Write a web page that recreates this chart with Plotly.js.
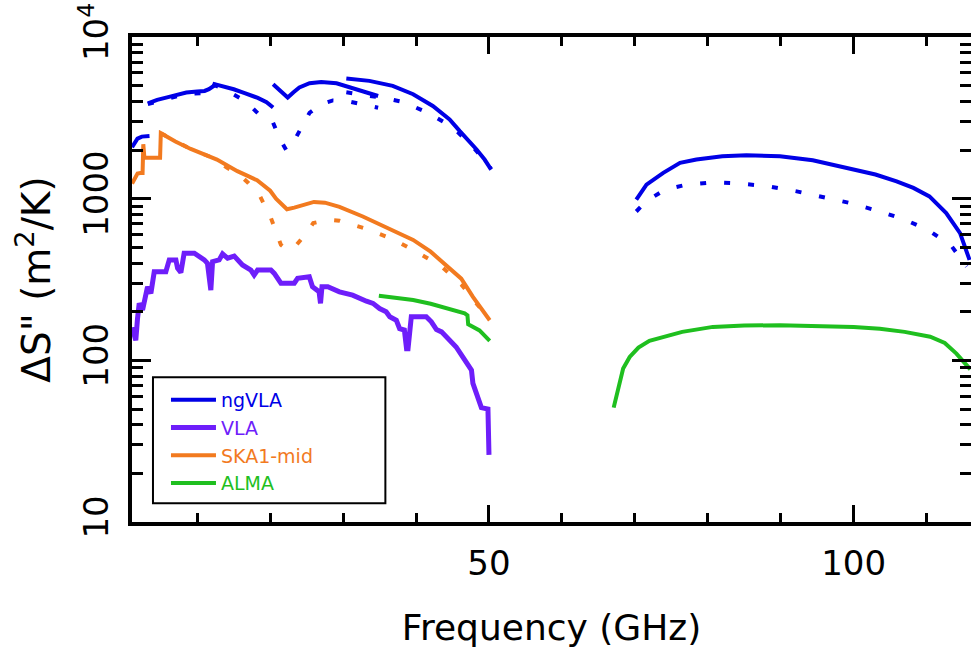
<!DOCTYPE html>
<html>
<head>
<meta charset="utf-8">
<script src="https://cdn.plot.ly/plotly-3.0.1.min.js"></script>
<style>html,body{margin:0;padding:0;background:#fff;}#chart{width:971px;height:655px;}</style>
</head>
<body>
<div id="chart"></div>
<script>
// ---- Data (GHz, m^2/K); null separates receiver bands ----
const ngvlaSolidX = [1.06,1.4,1.8,2.4,3.0,3.45, null,
  3.22,4.5,6.0,7.5,8.5,10.0,11.0,11.6,12.3,12.6, null,
  12.1,13.5,15.0,16.5,18.3,19.5,20.4, null,
  20.4,21.3,22.4,23.2,24.0,25.4,27.0,29.1,30.9,33.2,34.8, null,
  30.44,33.6,36.8,39.6,42.3,44.6,46.0,47.35,48.3,49.4,50.3, null,
  70.2,71.6,73.9,76.2,78.45,82.0,85.3,89.9,94.4,99.0,103.0,105.9,108.2,110.4,112.7,114.6,115.9];
const ngvlaSolidY = [2080,2220,2350,2420,2440,2440, null,
  3890,4080,4250,4430,4535,4600,4640,4760,4980,5100, null,
  5150,4980,4750,4500,4200,3950,3660, null,
  5100,4650,4220,4550,4870,5176,5272,5176,4871,4535,4315, null,
  5540,5353,4985,4425,3743,3095,2618,2270,2014,1746,1514, null,
  985,1222,1444,1667,1746,1830,1858,1832,1730,1552,1410,1281,1165,1033,815,612,418];

const ngvlaDotX = [3.22,6.0,8.5,11.0,12.3, null,
  12.1,13.5,14.8,16.0,17.4,18.7,20.4, null,
  20.4,21.3,22.2,23.0,23.6,25.4,27.0,28.6,30.5,32.5,34.8, null,
  30.44,33.0,35.5,38.2,41.6,45.0,47.8,50.3, null,
  70.2,71.5,73.4,75.0,77.1,80.7,84.4,88.3,92.2,95.8,99.5,103.1,106.8,110.2,113.4,115.5];
const ngvlaDotY = [3850,4180,4450,4500,4700, null,
  5100,4800,4450,4160,3700,3245,2980, null,
  2950,2350,2000,2150,2420,3400,3850,4050,4020,3840,3650, null,
  4550,4400,4200,3965,3405,2773,2095,1530, null,
  833,960,1084,1160,1222,1262,1240,1193,1110,1025,940,846,748,641,511,380];

const vlaX = [1.06,1.3,1.57,1.8,2.04,2.5,2.8,3.18,3.64,4.1,5.69,6.16,7.07,7.3,7.75,8.2,9.6,10.27,10.96,11.4,11.86,12.1,13.0,13.47,14.16,15.07,16.2,17.35,17.8,18.27,20.1,20.56,21.47,23.3,23.76,25.36,25.8,26.7,26.9,27.1,27.9,29.5,31.3,33.2,34.1,35.0,35.9,36.4,37.3,37.75,38.4,38.7,38.9,39.35,41.4,42.1,42.8,43.5,44.15,45.1,45.5,46.4,46.9,47.6,47.8,48.96,49.86,50.0];
const vlaY = [160,150,133,180,225,205,240,285,260,353,353,418,418,371,349,460,460,443,418,398,272,408,418,455,428,441,389,362,337,362,362,345,300,300,322,329,285,266,225,285,285,265,253,232,225,209,200,186,177,157,154,118,118,186,186,173,155,150,140,127,121,105,98,87,72,51,50,26];

const skaSolidX = [1.06,1.5,1.81,2.2,2.5,2.6,2.75,4.9,5.0,7.0,9.1,12.7,15.5,18.2,20.0,20.8,22.3,23.3,24.7,26.0,27.5,29.5,32.7,36.0,39.6,42.0,44.15,46.2,47.8,49.0,50.1];
const skaSolidY = [1240,1330,1430,1440,1440,2170,1790,1790,2540,2260,2030,1746,1480,1300,1120,1000,860,880,920,955,945,890,776,660,556,470,389,320,247,210,177];

const skaDotX = [5.0,7.0,9.1,12.7,14.0,15.76,17.0,18.5,20.1,21.47,22.4,23.5,24.8,25.9,28.0,29.5,33.2,36.8,40.0,43.5,46.2,48.6,50.1];
const skaDotY = [2540,2260,2030,1746,1560,1410,1250,1059,759,518,480,511,600,706,740,730,651,562,471,380,295,216,180];

const almaX = [34.9,37.0,39.6,42.0,44.15,46.67,47.05,47.15,48.7,50.1, null,
  67.1,67.9,68.4,69.3,70.5,72.0,73.9,76.5,80.7,85.0,89.9,95.0,100.0,103.6,107.0,110.5,112.5,114.1,116.0];
const almaY = [251,245,236,224,211,195,190,167,153,132, null,
  51,72,89,105,120,132,140,150,161,164,165,164,161,157,150,140,128,110,88];

const seriesNames = ['ngVLA','VLA','SKA1-mid','ALMA'];
const seriesColors = ['#0000e6','#6e1efa','#f27a1f','#1fbf1f'];

const xTickVals = [50,100];
const yTickVals = [10,100,1000,10000];
const yTickText = ['10','100','1000','10<sup>4</sup>'];

const legendIds = ['legend','legend2','legend3','legend4'];

const traces = [
  {x: ngvlaDotX, y: ngvlaDotY, mode:'lines', showlegend:false, connectgaps:false,
   line:{color:seriesColors[0], width:4, dash:'6px,18px'}},
  {x: skaDotX, y: skaDotY, mode:'lines', showlegend:false,
   line:{color:seriesColors[2], width:4, dash:'6px,18px'}},
  {x: ngvlaSolidX, y: ngvlaSolidY, mode:'lines', name: seriesNames[0], legend: legendIds[0], connectgaps:false,
   line:{color:seriesColors[0], width:4}},
  {x: vlaX, y: vlaY, mode:'lines', name: seriesNames[1], legend: legendIds[1],
   line:{color:seriesColors[1], width:5}},
  {x: skaSolidX, y: skaSolidY, mode:'lines', name: seriesNames[2], legend: legendIds[2],
   line:{color:seriesColors[2], width:4}},
  {x: almaX, y: almaY, mode:'lines', name: seriesNames[3], legend: legendIds[3], connectgaps:false,
   line:{color:seriesColors[3], width:4}}
];

const font = 'DejaVu Sans, sans-serif';
const layout = {
  width: 971, height: 655,
  margin: {l:132, r:0, t:37, b:133},
  paper_bgcolor:'#fff', plot_bgcolor:'#fff',
  showlegend: true,
  shapes: [
    {type:'rect', xref:'paper', yref:'paper', x0:0.025, x1:0.302, y0:0.0386, y1:0.2984,
     line:{color:'#000', width:2}, fillcolor:'#fff', layer:'above'}
  ],
  xaxis: {
    range:[1.05, 116.1], showgrid:false, zeroline:false,
    showline:true, linecolor:'#000', linewidth:4, mirror:'ticks',
    tickmode:'array', tickvals:xTickVals,
    ticks:'inside', ticklen:17, tickwidth:3, tickcolor:'#000',
    minor:{ticks:'inside', tickmode:'linear', tick0:0, dtick:10, ticklen:9, tickwidth:3, tickcolor:'#000'},
    tickfont:{family:font, size:34, color:'#000'},
    ticklabelstandoff: 8,
    title:{text:'Frequency (GHz)', font:{family:font, size:36, color:'#000'}, standoff:34}
  },
  yaxis: {
    type:'log', range:[1,4], showgrid:false, zeroline:false,
    showline:true, linecolor:'#000', linewidth:4, mirror:'ticks',
    tickmode:'array', tickvals:yTickVals, ticktext:yTickText, tickangle:-90,
    ticks:'inside', ticklen:19, tickwidth:3, tickcolor:'#000',
    minor:{ticks:'inside', dtick:'D1', ticklen:11, tickwidth:3, tickcolor:'#000'},
    tickfont:{family:font, size:34, color:'#000'},
    ticklabelstandoff: 6,
    title:{text:'ΔS" (m<sup>2</sup>/K)', font:{family:font, size:39, color:'#000'}, standoff:10}
  }
};

legendIds.forEach(function(id, i){
  layout[id] = {
    x: 0.0405, y: 0.2907 - 0.0571*i, xanchor:'left', yanchor:'top',
    bgcolor:'rgba(0,0,0,0)', borderwidth:0,
    font:{family:font, size:19, color:seriesColors[i]},
    itemwidth:45
  };
});

Plotly.newPlot('chart', traces, layout, {staticPlot:true, displayModeBar:false});
</script>
</body>
</html>
